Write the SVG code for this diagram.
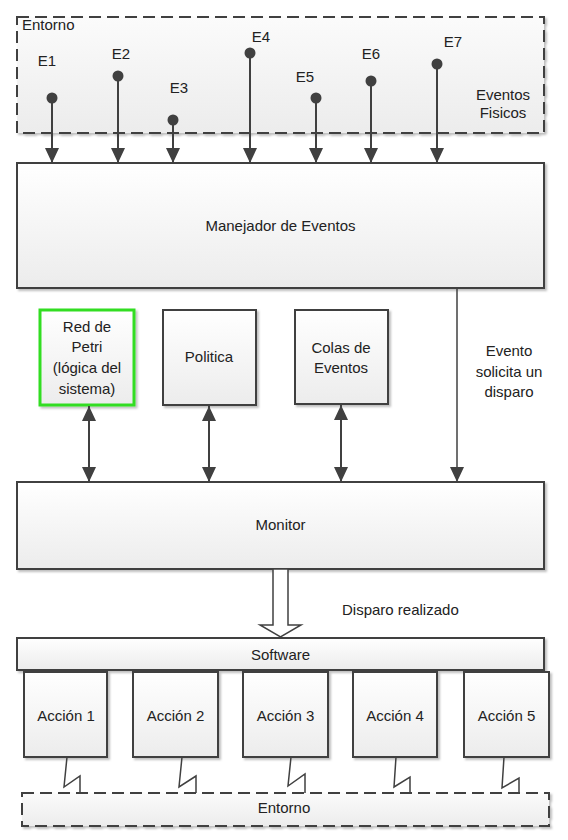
<svg xmlns="http://www.w3.org/2000/svg" width="568" height="840" viewBox="0 0 568 840">
<defs>
<linearGradient id="g" x1="0" y1="0" x2="0" y2="1"><stop offset="0" stop-color="#ffffff"/><stop offset="1" stop-color="#ececec"/></linearGradient>
<linearGradient id="ge" x1="0" y1="0" x2="0" y2="1"><stop offset="0" stop-color="#fbfbfb"/><stop offset="1" stop-color="#ececec"/></linearGradient>
<filter id="sh" x="-5%" y="-5%" width="115%" height="120%"><feDropShadow dx="2" dy="2" stdDeviation="1.2" flood-color="#000" flood-opacity="0.25"/></filter>
<marker id="ah" markerUnits="userSpaceOnUse" markerWidth="16" markerHeight="16" viewBox="0 0 16 16" refX="15" refY="8" orient="auto-start-reverse"><path d="M0,1 L15,8 L0,15 Z" fill="#404040"/></marker>
<marker id="dot" markerUnits="userSpaceOnUse" markerWidth="12" markerHeight="12" viewBox="0 0 12 12" refX="6" refY="6"><circle cx="6" cy="6" r="5.5" fill="#404040"/></marker>
</defs>
<style>
.box{fill:url(#g);stroke:#404040;stroke-width:2;filter:url(#sh)}
.dash{fill:url(#ge);stroke:#404040;stroke-width:2;stroke-dasharray:12 6;filter:url(#sh)}
.t{font-family:"Liberation Sans",Arial,sans-serif;font-size:15px;fill:#222;text-anchor:middle}
.l{font-family:"Liberation Sans",Arial,sans-serif;font-size:15px;fill:#222}
.c{stroke:#404040;stroke-width:2;fill:none}
.z{stroke:#404040;stroke-width:1.5;fill:none}
</style>
<g id="entorno-top">
<rect class="dash" x="17" y="17" width="527" height="116"/>
<text class="l" x="22" y="30">Entorno</text>
<text class="t" x="503" y="100">Eventos</text>
<text class="t" x="503" y="118">Fisicos</text>
<text class="t" x="47" y="66">E1</text>
<text class="t" x="121" y="59">E2</text>
<text class="t" x="179" y="93">E3</text>
<text class="t" x="261" y="42">E4</text>
<text class="t" x="305" y="82">E5</text>
<text class="t" x="371" y="59">E6</text>
<text class="t" x="453" y="47">E7</text>
</g>
<g id="manejador">
<rect class="box" x="17" y="163" width="527" height="125"/>
<text class="t" x="280.5" y="231">Manejador de Eventos</text>
</g>
<g id="red-petri">
<rect x="40" y="310" width="94" height="95" fill="url(#g)" stroke="#33dd22" stroke-width="3" filter="url(#sh)"/>
<text class="t" x="87" y="332">Red de</text>
<text class="t" x="87" y="352">Petri</text>
<text class="t" x="87" y="373">(lógica del</text>
<text class="t" x="87" y="394">sistema)</text>
</g>
<g id="politica">
<rect class="box" x="163" y="310" width="93" height="95"/>
<text class="t" x="209" y="362">Politica</text>
</g>
<g id="colas">
<rect class="box" x="295" y="310" width="93" height="94"/>
<text class="t" x="341" y="353">Colas de</text>
<text class="t" x="341" y="373">Eventos</text>
</g>
<g id="monitor">
<rect class="box" x="17" y="482" width="527" height="87"/>
<text class="t" x="280.5" y="530">Monitor</text>
</g>
<g id="software">
<rect class="box" x="17" y="638" width="527" height="32"/>
<text class="t" x="280.5" y="660">Software</text>
</g>
<g id="accion1"><rect class="box" x="24" y="672" width="83" height="85"/><text class="t" x="66" y="721">Acción 1</text></g>
<g id="accion2"><rect class="box" x="133" y="672" width="85" height="85"/><text class="t" x="175.5" y="721">Acción 2</text></g>
<g id="accion3"><rect class="box" x="243" y="672" width="85" height="85"/><text class="t" x="285.5" y="721">Acción 3</text></g>
<g id="accion4"><rect class="box" x="353" y="672" width="84" height="85"/><text class="t" x="395" y="721">Acción 4</text></g>
<g id="accion5"><rect class="box" x="464" y="672" width="85" height="85"/><text class="t" x="506.5" y="721">Acción 5</text></g>
<g id="entorno-bottom">
<rect class="dash" x="22" y="793" width="527" height="33"/>
<text class="t" x="284" y="813">Entorno</text>
</g>
<g id="connectors">
<line class="c" x1="52" y1="98" x2="52" y2="163" marker-start="url(#dot)" marker-end="url(#ah)"/>
<line class="c" x1="118" y1="76" x2="118" y2="163" marker-start="url(#dot)" marker-end="url(#ah)"/>
<line class="c" x1="173" y1="120" x2="173" y2="163" marker-start="url(#dot)" marker-end="url(#ah)"/>
<line class="c" x1="250" y1="53" x2="250" y2="163" marker-start="url(#dot)" marker-end="url(#ah)"/>
<line class="c" x1="316" y1="98" x2="316" y2="163" marker-start="url(#dot)" marker-end="url(#ah)"/>
<line class="c" x1="371" y1="81" x2="371" y2="163" marker-start="url(#dot)" marker-end="url(#ah)"/>
<line class="c" x1="437" y1="64" x2="437" y2="163" marker-start="url(#dot)" marker-end="url(#ah)"/>
<line class="c" x1="89" y1="406" x2="89" y2="482" marker-start="url(#ah)" marker-end="url(#ah)"/>
<line class="c" x1="209" y1="406" x2="209" y2="482" marker-start="url(#ah)" marker-end="url(#ah)"/>
<line class="c" x1="341" y1="405" x2="341" y2="482" marker-start="url(#ah)" marker-end="url(#ah)"/>
<line class="z" x1="457" y1="288" x2="457" y2="482" marker-end="url(#ah)"/>
<text class="t" x="509" y="356">Evento</text>
<text class="t" x="509" y="377">solicita un</text>
<text class="t" x="509" y="397">disparo</text>
<polygon points="273,569 288,569 288,625 301,625 280.5,637 260,625 273,625" fill="#ffffff" stroke="#404040" stroke-width="1.5"/>
<text class="l" x="342" y="615">Disparo realizado</text>
<polyline class="z" points="67,757 64,787 80,776 80,793"/>
<polyline class="z" points="182,757 179,787 196,776 196,793"/>
<polyline class="z" points="291,757 288,786 305,774 305,793"/>
<polyline class="z" points="396,757 394,787 410,777 410,793"/>
<polyline class="z" points="504,757 502,788 519,778 519,793"/>
</g>
</svg>
